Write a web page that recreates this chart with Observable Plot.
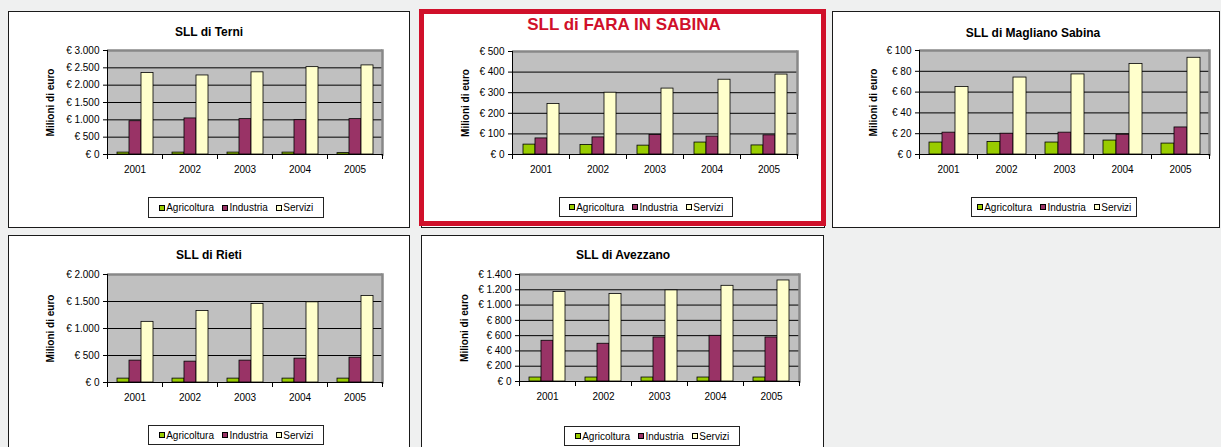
<!DOCTYPE html>
<html><head><meta charset="utf-8">
<script src="https://cdn.jsdelivr.net/npm/d3@7"></script>
<script src="https://cdn.jsdelivr.net/npm/@observablehq/plot@0.6"></script>
<style>
body{margin:0;background:#eff0f0;width:1221px;height:447px;overflow:hidden;position:relative;font-family:"Liberation Sans",Arial,sans-serif;}
.panel{position:absolute;background:#fff;border:1px solid #1a1a1a;box-sizing:border-box;}
.title{position:absolute;font-weight:bold;font-size:12px;white-space:nowrap;transform:translateX(-50%);line-height:1;color:#000}
.legend{position:absolute;border:1px solid #222;box-sizing:border-box;display:flex;align-items:center;justify-content:center;font-size:10px;background:#fff;color:#000}
.legend .item{display:flex;align-items:center;margin:0 4px}
.legend .sw{width:6px;height:6px;border:1px solid #000;margin-right:1.5px;box-sizing:border-box}
.plot{position:absolute}
#highlight{position:absolute;border:5px solid #d0102a;box-sizing:border-box}
</style>
</head><body>
<script>
// ---- data ----
const years = ["2001", "2002", "2003", "2004", "2005"];
const sectors = ["Agricoltura", "Industria", "Servizi"];
const sectorColors = ["#99cc00", "#993366", "#ffffcc"];

const terniAgricoltura = [55, 55, 55, 55, 40];
const terniIndustria   = [960, 1040, 1020, 990, 1020];
const terniServizi     = [2350, 2280, 2370, 2520, 2570];
const terniTicks = [0, 500, 1000, 1500, 2000, 2500, 3000];

const faraAgricoltura = [48, 46, 43, 58, 44];
const faraIndustria   = [78, 83, 95, 87, 93];
const faraServizi     = [245, 300, 320, 363, 388];
const faraTicks = [0, 100, 200, 300, 400, 500];

const maglianoAgricoltura = [11.5, 12, 11.5, 13.4, 10.5];
const maglianoIndustria   = [21, 20, 21, 19, 26];
const maglianoServizi     = [65, 74, 77, 87, 93];
const maglianoTicks = [0, 20, 40, 60, 80, 100];

const rietiAgricoltura = [72, 72, 72, 72, 72];
const rietiIndustria   = [405, 386, 405, 442, 460];
const rietiServizi     = [1123, 1325, 1454, 1485, 1601];
const rietiTicks = [0, 500, 1000, 1500, 2000];

const avezzanoAgricoltura = [52, 52, 52, 52, 52];
const avezzanoIndustria   = [533, 494, 576, 598, 576];
const avezzanoServizi     = [1170, 1144, 1192, 1252, 1322];
const avezzanoTicks = [0, 200, 400, 600, 800, 1000, 1200, 1400];

const yLabel = "Milioni di euro";

// ---- layout (page pixels) ----
const panels = [
  {title: "SLL di Terni", series: [terniAgricoltura, terniIndustria, terniServizi], ticks: terniTicks,
   box: [8, 11, 410, 228], plot: [105, 384, 50, 154], titleX: 209, titleBase: 36.7, legend: [148, 197, 324, 218], ylabX: 48},
  {title: "SLL di FARA IN SABINA", series: [faraAgricoltura, faraIndustria, faraServizi], ticks: faraTicks,
   box: [421, 11, 825, 228], plot: [510, 798, 51, 154], titleX: 624, titleBase: 31, legend: [559, 197, 733, 217], ylabX: 463,
   titleStyle: {color: "#d0102a", fontSize: "17px"}},
  {title: "SLL di Magliano Sabina", series: [maglianoAgricoltura, maglianoIndustria, maglianoServizi], ticks: maglianoTicks,
   box: [832, 11, 1220, 228], plot: [919, 1209, 50, 154], titleX: 1033, titleBase: 37, legend: [971, 197, 1137, 217], ylabX: 873},
  {title: "SLL di Rieti", series: [rietiAgricoltura, rietiIndustria, rietiServizi], ticks: rietiTicks,
   box: [8, 235, 410, 470], plot: [105, 384, 274, 382], titleX: 209, titleBase: 259, legend: [148, 425, 324, 445], ylabX: 48},
  {title: "SLL di Avezzano", series: [avezzanoAgricoltura, avezzanoIndustria, avezzanoServizi], ticks: avezzanoTicks,
   box: [421, 235, 824, 470], plot: [518, 799, 274, 381], titleX: 623, titleBase: 259, legend: [564, 426, 740, 446], ylabX: 463}
];

const itLocale = d3.formatLocale({decimal: ",", thousands: ".", grouping: [3], currency: ["€ ", ""]});
const euro = itLocale.format("$,.0f");

function place(el, l, t, w, h) {
  el.style.left = l + "px"; el.style.top = t + "px";
  if (w != null) el.style.width = w + "px";
  if (h != null) el.style.height = h + "px";
}

function drawPanel(p) {
  const [bl, bt, br, bb] = p.box;
  const panel = document.createElement("div");
  panel.className = "panel";
  place(panel, bl, bt, br - bl, bb - bt);
  document.body.appendChild(panel);

  const rows = [];
  years.forEach((yr, i) => sectors.forEach((s, j) => rows.push({year: yr, sector: s, value: p.series[j][i]})));

  const W = br - bl, H = 190;
  const [x0, x1, y0, y1] = p.plot;
  const mL = x0 - bl, mR = br - x1, mT = y0 - bt, mB = H - (y1 - bt);
  const plotH = y1 - y0;
  const yMax = p.ticks[p.ticks.length - 1];

  const chart = Plot.plot({
    width: W, height: H,
    marginLeft: mL, marginRight: mR, marginTop: mT, marginBottom: mB,
    style: {background: "transparent", fontFamily: "'Liberation Sans', Arial, sans-serif", fontSize: "10px", color: "#000", overflow: "visible"},
    fx: {domain: years, padding: 0, label: null, axis: null},
    x: {domain: sectors, paddingInner: 0, paddingOuter: 0.72, axis: null},
    y: {domain: [0, yMax], axis: null},
    color: {domain: sectors, range: sectorColors},
    marks: [
      Plot.frame({fill: "#c0c0c0", shapeRendering: "crispEdges"}),
      Plot.gridY(p.ticks, {stroke: "#000", strokeOpacity: 1, strokeWidth: 1}),
      Plot.ruleY([yMax], {stroke: "#888", strokeWidth: 2.5}),
      Plot.frame({anchor: "right", facetAnchor: "right", stroke: "#888", strokeWidth: 2.5}),
      Plot.barY(rows, {fx: "year", x: "sector", y: "value", fill: "sector", stroke: "#000", strokeWidth: 0.8}),
      Plot.ruleY([0], {stroke: "#000"}),
      Plot.frame({anchor: "left", facetAnchor: "left", stroke: "#000"}),
      Plot.frame({anchor: "left", stroke: "#000", insetTop: plotH, insetBottom: -4}),
      Plot.frame({anchor: "right", facetAnchor: "right", stroke: "#000", insetTop: plotH, insetBottom: -4}),
      Plot.axisY(p.ticks, {tickFormat: euro, tickSize: 4, tickPadding: 4, fontSize: 10, label: null}),
      Plot.axisFx({anchor: "bottom", tickSize: 0, tickPadding: 11, fontSize: 10, label: null}),
      Plot.text([years[0]], {fx: d => d, frameAnchor: "left", text: () => yLabel, rotate: -90,
        textAnchor: "middle", lineAnchor: "middle",
        dx: -(x0 - p.ylabX), fontWeight: "bold", fontSize: 10})
    ]
  });
  const wrap = document.createElement("div");
  wrap.className = "plot";
  place(wrap, bl, bt);
  wrap.appendChild(chart);
  document.body.appendChild(wrap);

  const title = document.createElement("div");
  title.className = "title";
  title.textContent = p.title;
  if (p.titleStyle) Object.assign(title.style, p.titleStyle);
  const fs = parseFloat(p.titleStyle?.fontSize || "12");
  place(title, p.titleX, p.titleBase - 0.86 * fs);
  document.body.appendChild(title);

  const [ll, lt, lr, lb] = p.legend;
  const leg = document.createElement("div");
  leg.className = "legend";
  place(leg, ll, lt, lr - ll, lb - lt);
  sectors.forEach((s, j) => {
    const it = document.createElement("span");
    it.className = "item";
    const sw = document.createElement("span");
    sw.className = "sw";
    sw.style.background = sectorColors[j];
    const tx = document.createElement("span");
    tx.textContent = s;
    it.appendChild(sw); it.appendChild(tx);
    leg.appendChild(it);
  });
  document.body.appendChild(leg);
}

panels.forEach(drawPanel);

const hl = document.createElement("div");
hl.id = "highlight";
place(hl, 419, 9, 407, 217);
document.body.appendChild(hl);
</script>
</body></html>
